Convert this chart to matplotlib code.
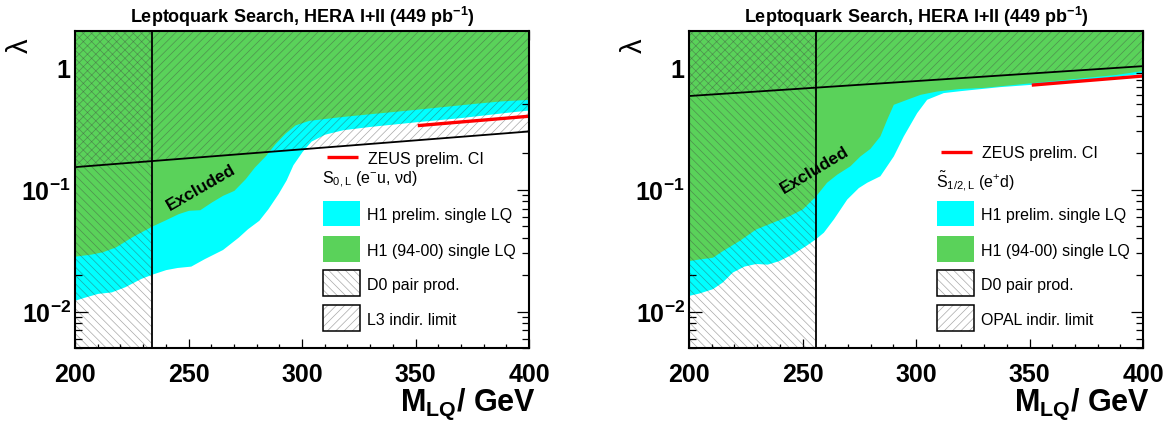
import matplotlib
matplotlib.use("Agg")
import matplotlib.pyplot as plt
import matplotlib.ticker as mt
from matplotlib.patches import Rectangle
from matplotlib.lines import Line2D

# ---------------- data ----------------
x_ticks = [200, 250, 300, 350, 400]
x_tick_labels = ["200", "250", "300", "350", "400"]
y_ticks = [0.01, 0.1, 1]
y_tick_labels = [r"$\mathbf{10^{-2}}$", r"$\mathbf{10^{-1}}$", r"$\mathbf{1}$"]

# Left panel: S_0,L
left_cyan_M = [200, 204, 210, 216, 222, 229, 234, 240, 245, 251, 257, 265, 272, 276,
               281, 285, 289.5, 293, 296, 300, 304, 310, 318, 330, 350, 370, 390, 400]
left_cyan_lam = [0.0124, 0.0131, 0.0141, 0.0145, 0.016, 0.0187, 0.0203, 0.0221, 0.023,
                 0.0236, 0.0272, 0.0323, 0.0409, 0.0478, 0.0561, 0.0698, 0.093, 0.12,
                 0.16, 0.205, 0.25, 0.285, 0.31, 0.33, 0.36, 0.39, 0.43, 0.45]
left_green_M = [200, 207, 212, 218, 225, 234, 240, 245.5, 250, 255, 260, 265, 270, 275,
                279, 284, 288, 292.5, 297, 303, 317, 332, 347, 362, 376, 388, 400]
left_green_lam = [0.0285, 0.0296, 0.0309, 0.034, 0.041, 0.0504, 0.0568, 0.0636, 0.0677,
                  0.0685, 0.079, 0.0898, 0.0987, 0.123, 0.153, 0.191, 0.237, 0.29, 0.34,
                  0.37, 0.397, 0.423, 0.45, 0.48, 0.51, 0.535, 0.55]
left_d0_limit = 234.0
left_indirect_M = [200, 400]
left_indirect_lam = [0.153, 0.30]
left_zeus_M = [351, 400]
left_zeus_lam = [0.335, 0.40]

# Right panel: S~_1/2,L
right_cyan_M = [200, 204.4, 210.3, 214.7, 219.1, 224.2, 229.4, 234.5, 239.6, 245.5, 251.4,
                255.8, 259.2, 263.6, 269.5, 274.6, 278.3, 284.1, 290, 294.4, 300.3, 304.7,
                312, 320, 337, 355, 371, 388, 400]
right_cyan_lam = [0.0136, 0.0142, 0.0154, 0.0175, 0.0211, 0.0236, 0.0248, 0.0245, 0.0262,
                  0.0297, 0.0348, 0.0397, 0.0448, 0.0575, 0.0838, 0.104, 0.115, 0.13,
                  0.189, 0.276, 0.428, 0.551, 0.625, 0.65, 0.70, 0.74, 0.79, 0.85, 0.9]
right_green_M = [200, 204.4, 210.3, 214.7, 222, 229.4, 236.7, 244.1, 249.9, 255.8, 260.6,
                 265.1, 270.9, 275.3, 279.7, 284.1, 287.1, 290, 295.9, 301.8, 309.1,
                 319, 330, 359, 388, 400]
right_green_lam = [0.0262, 0.027, 0.0279, 0.0316, 0.0382, 0.0476, 0.054, 0.0612, 0.0694,
                   0.089, 0.115, 0.134, 0.157, 0.189, 0.218, 0.276, 0.378, 0.501, 0.551,
                   0.605, 0.644, 0.675, 0.69, 0.78, 0.88, 0.95]
right_d0_limit = 256.0
right_indirect_M = [200, 400]
right_indirect_lam = [0.586, 1.03]
right_zeus_M = [351, 400]
right_zeus_lam = [0.72, 0.855]

title = r"Leptoquark Search, HERA I+II (449 pb$^{\mathbf{-1}}$)"
legend_zeus = "ZEUS prelim. CI"
legend_cyan = "H1 prelim. single LQ"
legend_green = "H1 (94-00) single LQ"
legend_d0 = "D0 pair prod."
left_legend_indirect = "L3 indir. limit"
right_legend_indirect = "OPAL indir. limit"
left_channel = r"S$_{\mathrm{0,L}}$ (e$^{-}$u, νd)"
right_channel = r"$\tilde{\mathrm{S}}_{\mathrm{1/2,L}}$ (e$^{+}$d)"

# ---------------- style ----------------
W, H = 1176, 427
CYAN = "#00FFFF"
GREEN = "#5AD25A"
HATCH = (0.25, 0.25, 0.25, 0.45)
YMIN, YMAX = 0.005, 2.0

plt.rcParams.update({
    "font.family": ["Liberation Sans", "DejaVu Sans"],
    "mathtext.fontset": "custom",
    "mathtext.rm": "Liberation Sans",
    "mathtext.it": "Liberation Sans",
    "mathtext.bf": "Liberation Sans:bold",
    "hatch.linewidth": 0.5,
})

fig = plt.figure(figsize=(W / 100, H / 100), dpi=100)


def fx(x):
    return x / W


def fy(y):
    return 1 - y / H


AX_TOP, AX_BOT, AX_W = 32.0, 349.3, 454.0

panels = [
    dict(x0=75, cyan=(left_cyan_M, left_cyan_lam), green=(left_green_M, left_green_lam),
         d0=left_d0_limit, ind=(left_indirect_M, left_indirect_lam),
         zeus=(left_zeus_M, left_zeus_lam), ind_label=left_legend_indirect,
         channel=left_channel, red_y=158.3, chan_base=183.5,
         excl=(255.4, 0.106, 30)),
    dict(x0=689, cyan=(right_cyan_M, right_cyan_lam), green=(right_green_M, right_green_lam),
         d0=right_d0_limit, ind=(right_indirect_M, right_indirect_lam),
         zeus=(right_zeus_M, right_zeus_lam), ind_label=right_legend_indirect,
         channel=right_channel, red_y=152.7, chan_base=188.0,
         excl=(255.5, 0.147, 31)),
]

for p in panels:
    x0 = p["x0"]
    ax = fig.add_axes([fx(x0), fy(AX_BOT), AX_W / W, (AX_BOT - AX_TOP) / H])
    ax.set_yscale("log")
    ax.set_xlim(200, 400)
    ax.set_ylim(YMIN, YMAX)

    ax.fill_between(p["cyan"][0], p["cyan"][1], YMAX, color=CYAN, lw=0, zorder=1)
    ax.fill_between(p["green"][0], p["green"][1], YMAX, color=GREEN, lw=0, zorder=2)
    ax.fill_between([200, p["d0"]], YMIN, YMAX, facecolor="none", edgecolor=HATCH,
                    lw=0, hatch="\\\\\\\\", zorder=3)
    ax.fill_between(p["ind"][0], p["ind"][1], YMAX, facecolor="none", edgecolor=HATCH,
                    lw=0, hatch="////", zorder=3)
    ax.plot(p["ind"][0], p["ind"][1], color="k", lw=1.3, zorder=4)
    ax.axvline(p["d0"], color="k", lw=1.3, zorder=4)
    ax.plot(p["zeus"][0], p["zeus"][1], color="red", lw=2.4, zorder=5,
            solid_capstyle="butt")

    ex, ey, er = p["excl"]
    ax.text(ex, ey, "Excluded", rotation=er, fontsize=12.5, fontweight="bold",
            ha="center", va="center", rotation_mode="anchor", zorder=6)

    ax.set_xticks(x_ticks)
    ax.set_xticklabels(x_tick_labels, fontweight="bold")
    ax.xaxis.set_minor_locator(mt.MultipleLocator(10))
    ax.set_yticks(y_ticks)
    ax.set_yticklabels(y_tick_labels)
    ax.yaxis.set_minor_locator(mt.LogLocator(base=10, subs=range(2, 10), numticks=20))
    ax.yaxis.set_minor_formatter(mt.NullFormatter())

    ax.tick_params(axis="x", which="major", direction="in", length=6.2, width=0.9,
                   top=True, labelsize=18, pad=10)
    ax.tick_params(axis="x", which="minor", direction="in", length=3.2, width=0.9, top=True)
    ax.tick_params(axis="y", which="major", direction="in", length=9, width=0.9,
                   right=True, labelsize=18, pad=3)
    ax.tick_params(axis="y", which="minor", direction="in", length=4.7, width=0.9, right=True)
    for s in ax.spines.values():
        s.set_linewidth(1.5)
        s.set_zorder(7)

    # titles and axis labels
    fig.text(fx(x0 + AX_W / 2), fy(22.7), title, fontsize=13, fontweight="bold",
             ha="center", va="baseline")
    fig.text(fx(x0 + AX_W + 7), fy(411), r"$\mathbf{M_{LQ}}$/ GeV", fontsize=22,
             fontweight="bold", ha="right", va="baseline")
    fig.text(fx(x0 - 55), fy(45.5), "λ", fontsize=21, rotation=90,
             ha="center", va="center")

    # legend
    tx = x0 + 291.7
    fig.add_artist(Line2D([fx(x0 + 251.7), fx(x0 + 283.3)], [fy(p["red_y"])] * 2,
                          color="red", lw=2.4, transform=fig.transFigure,
                          solid_capstyle="butt"))
    fig.text(fx(x0 + 293.3), fy(p["red_y"] + 5.6), legend_zeus, fontsize=11.5,
             ha="left", va="baseline")
    fig.text(fx(x0 + 246.7), fy(p["chan_base"]), p["channel"], fontsize=11.5,
             ha="left", va="baseline")

    bx0, bw = x0 + 248.3, 36.5
    entries = [
        (201.5, 227.0, legend_cyan, "cyan"),
        (236.8, 263.0, legend_green, "green"),
        (271.3, 296.5, legend_d0, "d0"),
        (306.3, 332.0, p["ind_label"], "ind"),
    ]
    for top, bot, label, kind in entries:
        xy = (fx(bx0), fy(bot))
        wh = (bw / W, (bot - top) / H)
        if kind == "cyan":
            fig.add_artist(Rectangle(xy, *wh, transform=fig.transFigure,
                                     facecolor=CYAN, edgecolor="none"))
        elif kind == "green":
            fig.add_artist(Rectangle(xy, *wh, transform=fig.transFigure,
                                     facecolor=GREEN, edgecolor="none"))
        else:
            hatch = "\\\\\\\\" if kind == "d0" else "////"
            fig.add_artist(Rectangle(xy, *wh, transform=fig.transFigure,
                                     facecolor="white", edgecolor=HATCH, lw=0,
                                     hatch=hatch))
            fig.add_artist(Rectangle(xy, *wh, transform=fig.transFigure,
                                     facecolor="none", edgecolor="black", lw=1.1))
        fig.text(fx(tx), fy((top + bot) / 2 + 5.7), label, fontsize=11.5,
                 ha="left", va="baseline")

fig.savefig("out.png", dpi=100)
